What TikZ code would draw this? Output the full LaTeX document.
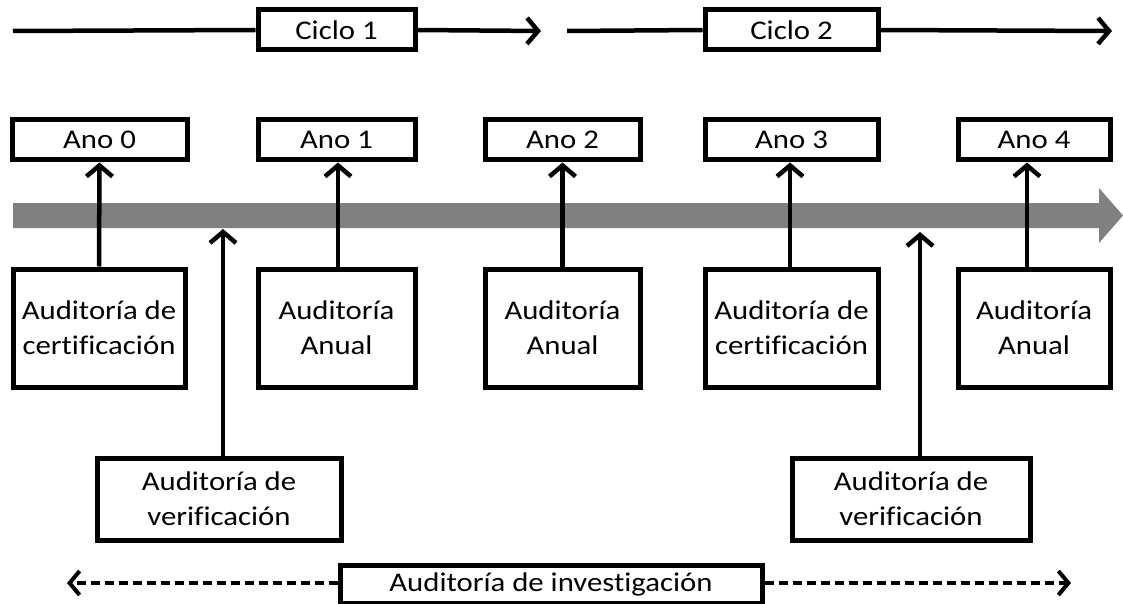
\documentclass[tikz,border=0pt]{standalone}
\usepackage{fontspec}
\setmainfont{Carlito}[FakeStretch=1.14,Ligatures=NoCommon]
\usetikzlibrary{arrows.meta}
\tikzset{
  x=1pt, y=-1pt,
  box/.style={draw, line width=5pt, inner sep=0pt, align=center,
    font=\fontsize{27}{35}\selectfont},
  tip/.style={-{Straight Barb[length=11pt,width=26pt,line width=4.5pt]}},
  link/.style={tip, line width=4.5pt},
  cyc/.style={tip, line width=4.5pt},
  inv/.style={line width=4pt, dash pattern=on 9pt off 5pt,
    -{Straight Barb[length=10pt,width=24pt,line width=4pt]}},
}
\begin{document}
\begin{tikzpicture}
\useasboundingbox (0,0) rectangle (1123,604);

% timeline band
\fill[gray] (13,203) -- (1099,203) -- (1099,188) -- (1123,215.5)
  -- (1099,243) -- (1099,228) -- (13,228) -- cycle;

% cycles
\node[box, minimum width=157, minimum height=40] (c1) at (336.5,30) {Ciclo 1};
\node[box, minimum width=173, minimum height=40] (c2) at (791.5,30) {Ciclo 2};
\coordinate (s1) at (13,31);
\coordinate (e1) at (541,31);
\coordinate (s2) at (567,31);
\coordinate (e2) at (1112,31);
\draw[line width=4.5pt] (s1) -- (c1.west);
\draw[cyc] (c1.east) -- (e1);
\draw[line width=4.5pt] (s2) -- (c2.west);
\draw[cyc] (c2.east) -- (e2);

% years
\foreach \n/\cx/\w in {0/99.5/175, 1/336.5/157, 2/562.5/155, 3/791.5/173, 4/1034/152}
  \node[box, minimum width=\w, minimum height=40] (a\n) at (\cx,140) {Ano \n};

% audits
\node[box, minimum width=172, minimum height=118] (b0) at (99,328) {Auditoría de\\certificación};
\node[box, minimum width=157, minimum height=118] (b1) at (336.5,328) {Auditoría\\Anual};
\node[box, minimum width=155, minimum height=118] (b2) at (562.5,328) {Auditoría\\Anual};
\node[box, minimum width=173, minimum height=118] (b3) at (791.5,328) {Auditoría de\\certificación};
\node[box, minimum width=152, minimum height=118] (b4) at (1034,328) {Auditoría\\Anual};

\draw[link] (b0.north) -- (a0.south);
\draw[link] ([xshift=1.5pt]b1.north) -- ([xshift=1.5pt]a1.south);
\draw[link] (b2.north) -- (a2.south);
\draw[link] ([xshift=-1.5pt]b3.north) -- ([xshift=-1.5pt]a3.south);
\draw[link] ([xshift=-7pt]b4.north) -- ([xshift=-7pt]a4.south);

% verification audits
\node[box, minimum width=244, minimum height=82] (v1) at (219,499) {Auditoría de\\verificación};
\node[box, minimum width=238, minimum height=82] (v2) at (911,499) {Auditoría de\\verificación};
\coordinate (t1) at (223,229);
\coordinate (t2) at (920,232);
\draw[link] (v1.north -| t1) -- (t1);
\draw[link] (v2.north -| t2) -- (t2);

% investigation audit
\node[box, minimum width=422, minimum height=38] (i) at (551,584) {Auditoría de investigación};
\coordinate (il) at (67,583);
\coordinate (ir) at (1071,583);
\draw[inv] (i.west |- il) -- (il);
\draw[inv] (i.east |- ir) -- (ir);
\end{tikzpicture}
\end{document}
